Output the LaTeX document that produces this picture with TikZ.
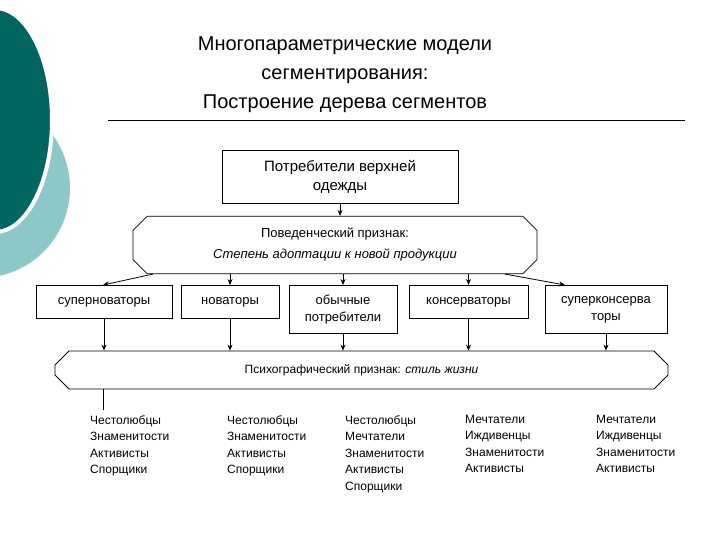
\documentclass[tikz,border=0pt]{standalone}
\usepackage{fontspec}
\setmainfont{Liberation Sans}
\usetikzlibrary{shapes.misc,arrows.meta}
\definecolor{dteal}{HTML}{00665F}
\definecolor{lteal}{HTML}{8CC8C8}
\begin{document}
\begin{tikzpicture}[x=1pt,y=-1pt,
 bx/.style={draw,thick,align=center,font=\fontsize{13}{17}\selectfont,inner sep=0pt},
 oct/.style={draw,thick,chamfered rectangle,chamfered rectangle xsep=2pt,chamfered rectangle ysep=12pt,align=center,inner sep=0pt},
 ar/.style={-{Stealth[length=6pt,width=5pt]},thick},
 lst/.style={anchor=north west,align=left,font=\fontsize{12}{16.5}\selectfont,inner sep=0pt}]
\useasboundingbox (0,0) rectangle (720,540);
\fill[white] (0,0) rectangle (720,540);
\begin{scope}
\clip (0,0) rectangle (720,540);
\fill[lteal] (-20,188) circle (90);
\draw[white,line width=4pt,fill=dteal] (-5,120) ellipse (57 and 112);
\end{scope}
\node[align=center,font=\fontsize{20}{29}\selectfont] (t) at (345,75) {Многопараметрические модели\\сегментирования:\\Построение дерева сегментов};
\coordinate (l1) at (108,120); \coordinate (l2) at (685,120);
\draw (l1) -- (l2);
\node[bx,minimum width=236,minimum height=53,font=\fontsize{15}{19}\selectfont] (top) at (340,176.5) {Потребители верхней\\одежды};
\node[oct,minimum width=404,minimum height=54,font=\fontsize{13}{21}\selectfont] (o1) at (335,245) {Поведенческий признак:\\\itshape Степень адоптации к новой продукции};
\draw[ar] (top) -- (top|-o1.north);
\node[bx,minimum width=136,minimum height=33,anchor=north] (a) at (104,285) {суперноваторы};
\node[bx,minimum width=98,minimum height=33,anchor=north] (b) at (230,285) {новаторы};
\node[bx,minimum width=108,minimum height=48,anchor=north] (c) at (343,285) {обычные\\потребители};
\node[bx,minimum width=119,minimum height=33,anchor=north] (d) at (468.5,285) {консерваторы};
\node[bx,minimum width=122,minimum height=48,anchor=north] (e) at (606,285) {суперконсерва\\торы};
\node[oct,minimum width=613,minimum height=38,font=\fontsize{12}{14}\selectfont] (o2) at (361.5,370) {Психографический признак: \itshape стиль жизни};
\draw[ar] ([xshift=-182]o1.south) -- ([xshift=-1]a.north);
\draw[ar] (o1.south-|b) -- (b.north);
\draw[ar] (o1.south-|c) -- (c.north);
\draw[ar] (o1.south-|d) -- (d.north);
\draw[ar] ([xshift=170]o1.south) -- ([xshift=-41]e.north);
\draw[ar] (a.south) -- (a.south|-o2.north);
\draw[ar] (b.south) -- (b.south|-o2.north);
\draw[ar] (c.south) -- (c.south|-o2.north);
\draw[ar] (d.south) -- (d.south|-o2.north);
\draw[ar] (e.south) -- (e.south|-o2.north);
\coordinate (f) at (103,410);
\draw[thick] (o2.south-|f) -- (f);
\node[lst] (g1) at (90,415) {Честолюбцы\\Знаменитости\\Активисты\\Спорщики};
\node[lst] (g2) at (227,415) {Честолюбцы\\Знаменитости\\Активисты\\Спорщики};
\node[lst] (g3) at (345,415) {Честолюбцы\\Мечтатели\\Знаменитости\\Активисты\\Спорщики};
\node[lst] (g4) at (465,415) {Мечтатели\\Иждивенцы\\Знаменитости\\Активисты};
\node[lst] (g5) at (596,415) {Мечтатели\\Иждивенцы\\Знаменитости\\Активисты};
\end{tikzpicture}
\end{document}
